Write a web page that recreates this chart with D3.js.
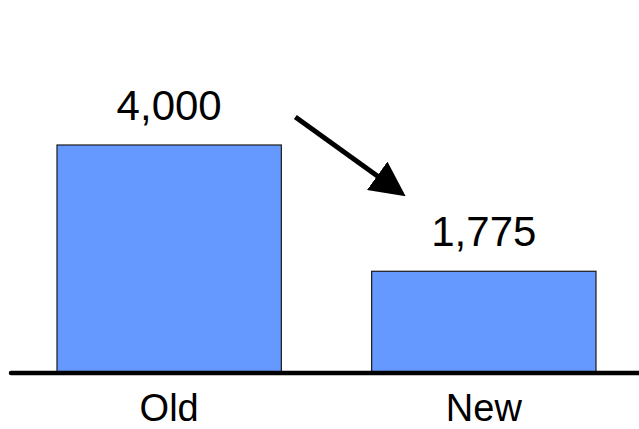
<!DOCTYPE html>
<html><head><meta charset="utf-8">
<script src="https://cdn.jsdelivr.net/npm/d3@7"></script>
<style>html,body{margin:0;padding:0;background:#fff;}svg{display:block;}</style>
</head><body>
<svg id="c" width="639" height="429"></svg>
<script>
const categories = ["Old", "New"];
const values = [4000, 1775];
const valueLabels = ["4,000", "1,775"];

const W = 639, H = 429;
const svg = d3.select("#c");
const x = d3.scaleBand().domain(categories).range([57, 596]).paddingInner(0.287).paddingOuter(0);
const y = d3.scaleLinear().domain([0, 4000]).range([372, 145]);
const font = "'Liberation Sans', Arial, sans-serif";

svg.selectAll("rect.bar").data(categories).join("rect")
  .attr("class", "bar")
  .attr("x", d => x(d)).attr("width", x.bandwidth())
  .attr("y", (d, i) => y(values[i])).attr("height", (d, i) => y(0) - y(values[i]))
  .attr("fill", "#6699FF").attr("stroke", "#1a1a1a").attr("stroke-width", 1.2);

svg.selectAll("text.val").data(categories).join("text")
  .attr("class", "val")
  .attr("x", d => x(d) + x.bandwidth() / 2)
  .attr("y", (d, i) => y(values[i]) - 25)
  .attr("text-anchor", "middle").attr("font-family", font).attr("font-size", 42)
  .attr("fill", "#000").text((d, i) => valueLabels[i]);

// baseline axis
const axis = d3.axisBottom(x).tickSize(0).tickPadding(21);
const g = svg.append("g").attr("transform", `translate(0,${y(0) + 1})`).call(axis);
g.select(".domain").remove();
g.append("line").attr("x1", 11).attr("x2", W).attr("y1", 0).attr("y2", 0)
  .attr("stroke", "#000").attr("stroke-width", 4.5).attr("stroke-linecap", "round");
g.selectAll(".tick text").attr("font-family", font).attr("font-size", 38).attr("fill", "#000");

// arrow annotation
svg.append("defs").append("marker").attr("id", "ah")
  .attr("viewBox", "0 0 10 10").attr("refX", 2).attr("refY", 5)
  .attr("markerWidth", 7).attr("markerHeight", 7).attr("markerUnits", "strokeWidth")
  .attr("orient", "auto")
  .append("path").attr("d", "M0,0 L10,5 L0,10 Z").attr("fill", "#000");
const x0 = x("Old") + x.bandwidth() + 14, y0 = y(values[0]) - 28;
const x1 = x("New") + 34, y1 = y(values[1]) - 75;
const ang = Math.atan2(y1 - y0, x1 - x0);
svg.append("line")
  .attr("x1", x0).attr("y1", y0)
  .attr("x2", x1 - 28 * Math.cos(ang)).attr("y2", y1 - 28 * Math.sin(ang))
  .attr("stroke", "#000").attr("stroke-width", 5)
  .attr("marker-end", "url(#ah)");
</script>
</body></html>
